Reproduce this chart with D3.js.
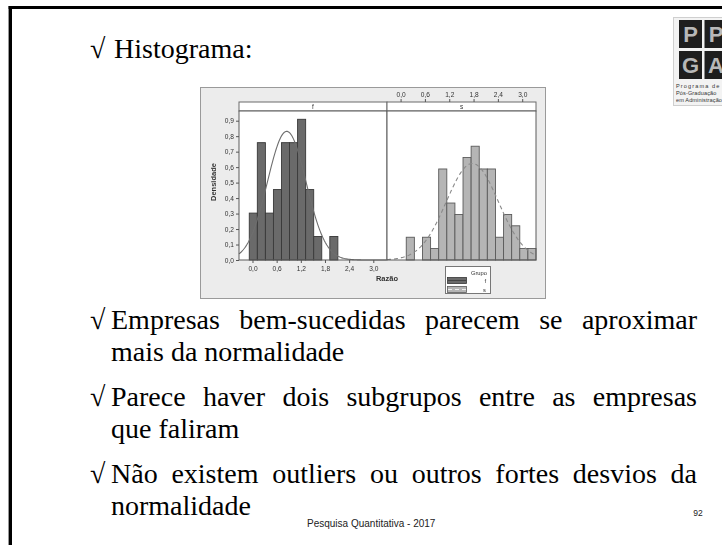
<!DOCTYPE html>
<html><head><meta charset="utf-8">
<script src="https://cdn.jsdelivr.net/npm/d3@7"></script>
<style>html,body{margin:0;padding:0;background:#fff;} svg{display:block;}</style>
</head><body>
<svg id="slide" width="722" height="545"></svg>
<script>
// ---- Histogram data (density per bin of width 0.2) ----
const groups = ["f", "s"];
const binWidth = 0.2;
const fMidpoints = [0.02, 0.22, 0.42, 0.62, 0.82, 1.02, 1.22, 1.42, 1.62, 1.82, 2.02];
const fDensity   = [0.303, 0.758, 0.303, 0.455, 0.758, 0.758, 0.909, 0.455, 0.152, 0, 0.152];
const sMidpoints = [0.24, 0.44, 0.64, 0.84, 1.04, 1.24, 1.44, 1.64, 1.84, 2.04, 2.24, 2.44, 2.64, 2.84, 3.04, 3.24];
const sDensity   = [0.147, 0, 0.147, 0.074, 0.588, 0.368, 0.294, 0.662, 0.735, 0.588, 0.588, 0.147, 0.294, 0.221, 0.074, 0.074];
// fitted normal for each group
const fitMean = [0.85, 1.77];
const fitSd   = [0.48, 0.64];
const xTicks = [0, 0.6, 1.2, 1.8, 2.4, 3.0];
const yTicks = [0, 0.1, 0.2, 0.3, 0.4, 0.5, 0.6, 0.7, 0.8, 0.9];

// ---- Slide text ----
const slideTitle = "Histograma:";
const paragraphs = [
  ["Empresas bem-sucedidas parecem se aproximar", "mais da normalidade"],
  ["Parece haver dois subgrupos entre as empresas", "que faliram"],
  ["Não existem outliers ou outros fortes desvios da", "normalidade"]
];
const footer = "Pesquisa Quantitativa - 2017";
const pageNumber = "92";
const logoLetters = ["P", "P", "G", "A"];
const logoLines = ["Programa de", "Pós-Graduação", "em Administração"];

const svg = d3.select("#slide");
svg.append("rect").attr("width", 722).attr("height", 545).attr("fill", "#fff");

// slide frame
svg.append("line").attr("x1", 10.3).attr("x2", 10.3).attr("y1", 6).attr("y2", 545)
  .attr("stroke", "#000").attr("stroke-width", 3.4);
svg.append("line").attr("x1", 8.6).attr("x2", 722).attr("y1", 7.5).attr("y2", 7.5)
  .attr("stroke", "#000").attr("stroke-width", 3);

// logo
const logo = svg.append("g");
logo.append("rect").attr("x", 673.5).attr("y", 17.5).attr("width", 60).attr("height", 88)
  .attr("fill", "#f3f3f3").attr("stroke", "#cfcfcf");
logoLetters.forEach((l, i) => {
  const cx = 679 + (i % 2) * 25.5, cy = 20 + Math.floor(i / 2) * 31;
  logo.append("rect").attr("x", cx).attr("y", cy).attr("width", 23).attr("height", 28).attr("fill", "#1e1e1e");
  logo.append("text").attr("x", cx + 11.5).attr("y", cy + 22).attr("text-anchor", "middle")
    .attr("font-family", "Liberation Sans, Arial, sans-serif").attr("font-weight", "bold")
    .attr("font-size", 22).attr("fill", "#b8b8b8").text(l);
});
logoLines.forEach((t, i) => {
  logo.append("text").attr("x", 676).attr("y", 88 + i * 6.8)
    .attr("font-family", "Liberation Sans, Arial, sans-serif").attr("font-size", 5.6)
    .attr("letter-spacing", i === 0 ? 1.1 : 0.1).attr("fill", "#333").text(t);
});

// ---- slide body text ----
const serif = "Liberation Serif, Times New Roman, serif";
const bodySize = 28;
const bulletX = 90, textX = 111, rightX = 697;
function bullet(y) {
  svg.append("text").attr("x", bulletX).attr("y", y).attr("font-family", serif)
    .attr("font-size", bodySize).attr("fill", "#000").text("√");
}
bullet(58);
svg.append("text").attr("x", textX + 3).attr("y", 58).attr("font-family", serif)
  .attr("font-size", bodySize).attr("fill", "#000").text(slideTitle);

paragraphs.forEach((lines, p) => {
  const y0 = 329 + p * 77;
  bullet(y0);
  lines.forEach((line, j) => {
    const t = svg.append("text").attr("x", textX).attr("y", y0 + j * 32)
      .attr("font-family", serif).attr("font-size", bodySize).attr("fill", "#000").text(line);
    if (j < lines.length - 1) {
      // justify the line to the right margin
      const natural = t.node().getComputedTextLength();
      const gaps = line.split(" ").length - 1;
      if (gaps > 0) t.attr("word-spacing", Math.max(0, (rightX - textX - natural) / gaps));
    }
  });
});

svg.append("text").attr("x", 307).attr("y", 526.5)
  .attr("font-family", "Liberation Sans, Arial, sans-serif").attr("font-size", 10)
  .attr("fill", "#222").text(footer);
svg.append("text").attr("x", 698).attr("y", 516).attr("text-anchor", "middle")
  .attr("font-family", "Liberation Sans, Arial, sans-serif").attr("font-size", 8.5)
  .attr("fill", "#222").text(pageNumber);

// ---- histogram panel chart ----
const defs = svg.append("defs");
defs.append("filter").attr("id", "soft").append("feGaussianBlur").attr("stdDeviation", 0.3);
const chart = svg.append("g").attr("filter", "url(#soft)");
const sans = "Liberation Sans, Arial, sans-serif";
const fmt = d3.formatLocale({decimal: ",", thousands: ".", grouping: [3], currency: ["", ""]}).format(".1f");

chart.append("rect").attr("x", 200.5).attr("y", 87.5).attr("width", 345).attr("height", 211)
  .attr("fill", "#ececec").attr("stroke", "#9a9a9a");

const plotTop = 111, plotBottom = 260, stripTop = 102;
const panelX = [[239, 387], [387, 536]];
const y = d3.scaleLinear().domain([0, 0.9626]).range([plotBottom, plotTop]);
const xScales = panelX.map(r => d3.scaleLinear().domain([-0.335, 3.34]).range(r));

const series = [
  {mid: fMidpoints, dens: fDensity, fill: "#6b6b6b", stroke: "#383838", curve: "#6e6e6e", dash: null},
  {mid: sMidpoints, dens: sDensity, fill: "#b5b5b5", stroke: "#5a5a5a", curve: "#8a8a8a", dash: "4,3"}
];

groups.forEach((g, i) => {
  const x = xScales[i];
  const [x0, x1] = panelX[i];
  // strip header
  chart.append("rect").attr("x", x0).attr("y", stripTop).attr("width", x1 - x0).attr("height", plotTop - stripTop)
    .attr("fill", "#fff").attr("stroke", "#6a6a6a");
  chart.append("text").attr("x", (x0 + x1) / 2).attr("y", plotTop - 2.2).attr("text-anchor", "middle")
    .attr("font-family", sans).attr("font-size", 6.5).attr("fill", "#333").text(g);
  // panel
  chart.append("rect").attr("x", x0).attr("y", plotTop).attr("width", x1 - x0).attr("height", plotBottom - plotTop)
    .attr("fill", "#fff");

  const s = series[i];
  const bins = s.mid.map((m, k) => ({m, d: s.dens[k]})).filter(b => b.d > 0);
  chart.append("g").selectAll("rect").data(bins).join("rect")
    .attr("x", b => x(b.m - binWidth / 2))
    .attr("width", b => x(b.m + binWidth / 2) - x(b.m - binWidth / 2))
    .attr("y", b => y(b.d))
    .attr("height", b => y(0) - y(b.d))
    .attr("fill", s.fill).attr("stroke", s.stroke).attr("stroke-width", 0.9);

  // fitted normal density
  const xs = d3.range(x.domain()[0], x.domain()[1] + 0.001, 0.02);
  const pdf = v => Math.exp(-0.5 * ((v - fitMean[i]) / fitSd[i]) ** 2) / (fitSd[i] * Math.sqrt(2 * Math.PI));
  chart.append("path").datum(xs)
    .attr("d", d3.line().x(v => x(v)).y(v => y(pdf(v))))
    .attr("fill", "none").attr("stroke", s.curve).attr("stroke-width", 1.1)
    .attr("stroke-dasharray", s.dash);

  chart.append("rect").attr("x", x0).attr("y", plotTop).attr("width", x1 - x0).attr("height", plotBottom - plotTop)
    .attr("fill", "none").attr("stroke", "#5a5a5a").attr("stroke-width", 1);
});

function styleAxis(g) {
  g.select(".domain").remove();
  g.selectAll(".tick line").attr("stroke", "#555");
  g.selectAll(".tick text").attr("font-family", sans).attr("font-size", 6.6).attr("fill", "#333");
}
chart.append("g").attr("transform", `translate(0,${plotBottom})`)
  .call(d3.axisBottom(xScales[0]).tickValues(xTicks).tickFormat(fmt).tickSize(3).tickPadding(3))
  .call(styleAxis);
chart.append("g").attr("transform", `translate(0,${stripTop})`)
  .call(d3.axisTop(xScales[1]).tickValues(xTicks).tickFormat(fmt).tickSize(3).tickPadding(2))
  .call(styleAxis);
chart.append("g").attr("transform", `translate(${panelX[0][0]},0)`)
  .call(d3.axisLeft(y).tickValues(yTicks).tickFormat(fmt).tickSize(3).tickPadding(2))
  .call(styleAxis);

chart.append("text").attr("x", 387).attr("y", 281).attr("text-anchor", "middle")
  .attr("font-family", sans).attr("font-weight", "bold").attr("font-size", 7.5).attr("fill", "#333").text("Razão");
chart.append("text").attr("transform", "translate(216,182) rotate(-90)").attr("text-anchor", "middle")
  .attr("font-family", sans).attr("font-weight", "bold").attr("font-size", 7.5).attr("fill", "#333").text("Densidade");

// legend
const lg = chart.append("g");
lg.append("rect").attr("x", 445.5).attr("y", 266.5).attr("width", 45).attr("height", 27)
  .attr("fill", "#fff").attr("stroke", "#777");
lg.append("text").attr("x", 487).attr("y", 274.5).attr("text-anchor", "end")
  .attr("font-family", sans).attr("font-size", 5.8).attr("fill", "#333").text("Grupo");
groups.forEach((g, i) => {
  const yy = 277.5 + i * 9;
  lg.append("rect").attr("x", 447.5).attr("y", yy).attr("width", 19).attr("height", 6)
    .attr("fill", series[i].fill).attr("stroke", series[i].stroke).attr("stroke-width", 0.8);
  lg.append("line").attr("x1", 448).attr("x2", 466).attr("y1", yy + 3).attr("y2", yy + 3)
    .attr("stroke", i === 0 ? "#444" : "#eee").attr("stroke-width", 1).attr("stroke-dasharray", series[i].dash);
  lg.append("text").attr("x", 486).attr("y", yy + 5).attr("text-anchor", "end")
    .attr("font-family", sans).attr("font-size", 5.8).attr("fill", "#333").text(g);
});
</script>
</body></html>
